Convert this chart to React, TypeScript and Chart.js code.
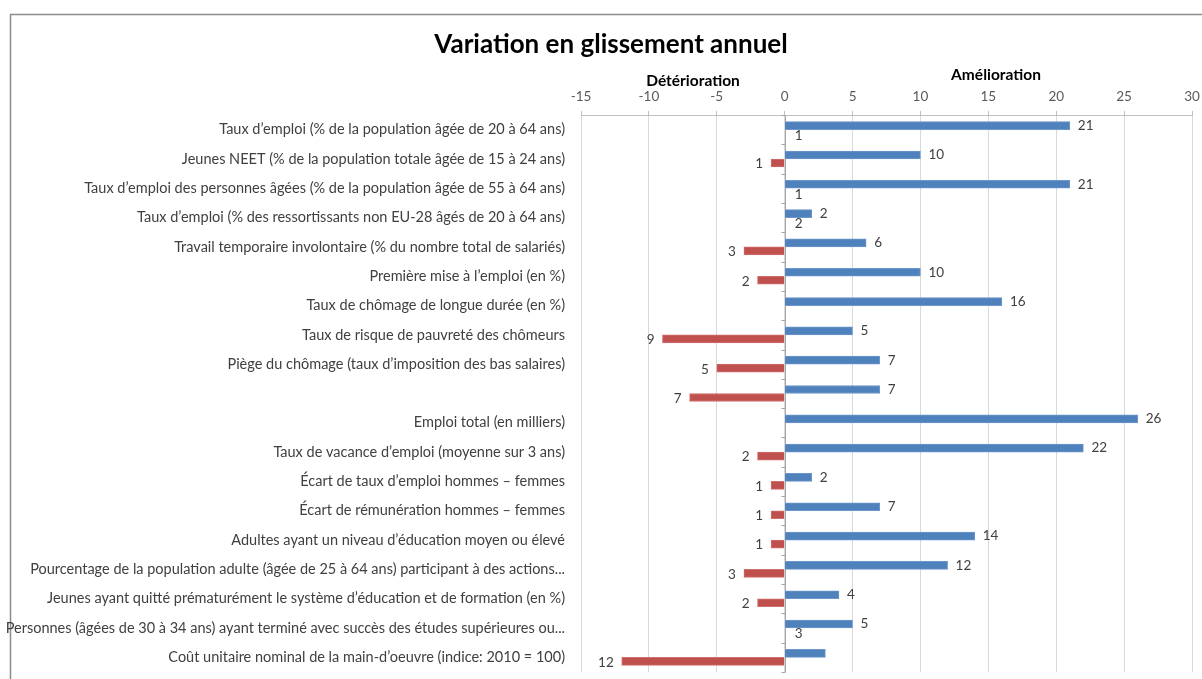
import React, { useEffect, useRef } from "react";
import { Chart, registerables } from "chart.js";

Chart.register(...registerables);

const categories: string[] = [
  "Taux d’emploi (% de la population âgée de 20 à 64 ans)",
  "Jeunes NEET (% de la population totale âgée de 15 à 24 ans)",
  "Taux d’emploi des personnes âgées (% de la population âgée de 55 à 64 ans)",
  "Taux d’emploi (% des ressortissants non EU-28 âgés de 20 à 64 ans)",
  "Travail temporaire involontaire (% du nombre total de salariés)",
  "Première mise à l’emploi (en %)",
  "Taux de chômage de longue durée (en %)",
  "Taux de risque de pauvreté des chômeurs",
  "Piège du chômage (taux d’imposition des bas salaires)",
  "",
  "Emploi total (en milliers)",
  "Taux de vacance d’emploi (moyenne sur 3 ans)",
  "Écart de taux d’emploi hommes – femmes",
  "Écart de rémunération hommes – femmes",
  "Adultes ayant un niveau d’éducation moyen ou élevé",
  "Pourcentage de la population adulte (âgée de 25 à 64 ans) participant à des actions...",
  "Jeunes ayant quitté prématurément le système d’éducation et de formation (en %)",
  "Personnes (âgées de 30 à 34 ans) ayant terminé avec succès des études supérieures ou...",
  "Coût unitaire nominal de la main-d’oeuvre (indice: 2010 = 100)",
];

const ameliorationValues: number[] = [21, 10, 21, 2, 6, 10, 16, 5, 7, 7, 26, 22, 2, 7, 14, 12, 4, 5, 3];
const ameliorationLabels: (string | null)[] = ["21", "10", "21", "2", "6", "10", "16", "5", "7", "7", "26", "22", "2", "7", "14", "12", "4", "5", null];

const deteriorationValues: number[] = [0, -1, 0, 0, -3, -2, 0, -9, -5, -7, 0, -2, -1, -1, -1, -3, -2, 0, -12];
const deteriorationLabels: (string | null)[] = ["1", "1", "1", "2", "3", "2", null, "9", "5", "7", null, "2", "1", "1", "1", "3", "2", "3", "12"];

const xTicks: number[] = [-15, -10, -5, 0, 5, 10, 15, 20, 25, 30];

const TITLE = "Variation en glissement annuel";
const LEFT_HEADER = "Détérioration";
const RIGHT_HEADER = "Amélioration";

const FONT = "Lato, 'Open Sans', sans-serif";

const decorPlugin = {
  id: "decor",
  beforeDraw(chart: any) {
    const ctx = chart.ctx;
    ctx.save();
    ctx.fillStyle = "#ffffff";
    ctx.fillRect(0, 0, chart.width, chart.height);
    ctx.strokeStyle = "#8c8c8c";
    ctx.lineWidth = 1.5;
    ctx.strokeRect(10.5, 14.5, chart.width + 20, chart.height + 20);
    ctx.restore();
  },
  beforeDatasetsDraw(chart: any) {
    const ctx = chart.ctx;
    const x = chart.scales.x;
    const x0 = Math.round(x.getPixelForValue(0)) + 0.5;
    ctx.save();
    ctx.strokeStyle = "#a6a6a6";
    ctx.lineWidth = 1;
    ctx.beginPath();
    ctx.moveTo(x0, chart.chartArea.top);
    ctx.lineTo(x0, chart.chartArea.bottom);
    const n = categories.length;
    const step = (chart.chartArea.bottom - chart.chartArea.top) / n;
    for (let i = 0; i <= n; i++) {
      const yy = Math.round(chart.chartArea.top + i * step) + 0.5;
      ctx.moveTo(x0 - 4, yy);
      ctx.lineTo(x0, yy);
    }
    ctx.stroke();
    ctx.restore();
  },
  afterDatasetsDraw(chart: any) {
    const ctx = chart.ctx;
    const xs = chart.scales.x;
    const x0 = xs.getPixelForValue(0);
    ctx.save();
    ctx.font = `13.5px ${FONT}`;
    ctx.fillStyle = "#404040";
    ctx.textBaseline = "middle";
    const blue = chart.getDatasetMeta(0).data;
    blue.forEach((el: any, i: number) => {
      const lab = ameliorationLabels[i];
      if (!lab) return;
      ctx.textAlign = "left";
      ctx.fillText(lab, el.x + 8, el.y);
    });
    const red = chart.getDatasetMeta(1).data;
    red.forEach((el: any, i: number) => {
      const lab = deteriorationLabels[i];
      if (!lab) return;
      if (deteriorationValues[i] < 0) {
        ctx.textAlign = "right";
        ctx.fillText(lab, el.x - 8, el.y + 1);
      } else {
        ctx.textAlign = "left";
        ctx.fillText(lab, x0 + 10, el.y + 2);
      }
    });
    // title and headers
    ctx.fillStyle = "#000000";
    ctx.textAlign = "center";
    ctx.font = `bold 26px ${FONT}`;
    ctx.fillText(TITLE, 611, 45);
    ctx.font = `bold 15.5px ${FONT}`;
    ctx.fillText(LEFT_HEADER, 693, 81);
    ctx.fillText(RIGHT_HEADER, 996, 75);
    ctx.restore();
  },
};

export default function App() {
  const ref = useRef<HTMLCanvasElement | null>(null);
  useEffect(() => {
    if (!ref.current) return;
    const chart = new Chart(ref.current, {
      type: "bar",
      data: {
        labels: categories,
        datasets: [
          {
            label: "Amélioration",
            data: ameliorationValues,
            backgroundColor: "#4f81bd",
            borderColor: "#6d97cc",
            borderWidth: 1,
            barThickness: 8,
          },
          {
            label: "Détérioration",
            data: deteriorationValues,
            backgroundColor: "#c0504d",
            borderColor: "#cf6f6c",
            borderWidth: 1,
            barThickness: 8,
          },
        ],
      },
      options: {
        indexAxis: "y",
        animation: false,
        responsive: false,
        maintainAspectRatio: false,
        layout: { padding: { left: 0, right: 10, top: 0, bottom: 7 } },
        plugins: {
          legend: { display: false },
          title: { display: false },
          tooltip: { enabled: false },
        },
        scales: {
          x: {
            position: "top",
            min: -15,
            max: 30,
            afterBuildTicks: (axis: any) => {
              axis.ticks = xTicks.map((v) => ({ value: v }));
            },
            afterFit: (axis: any) => {
              axis.height = 115;
              axis.paddingLeft = 0;
              axis.paddingRight = 0;
            },
            grid: {
              color: "#d9d9d9",
              lineWidth: 1,
              drawTicks: true,
              tickLength: 4,
              tickColor: "#bfbfbf",
            },
            border: { display: true, color: "#bfbfbf" },
            ticks: {
              padding: 6,
              color: "#595959",
              font: { family: FONT, size: 13.5 },
            },
          },
          y: {
            afterFit: (axis: any) => {
              axis.width = 581;
              axis.paddingTop = 0;
              axis.paddingBottom = 0;
            },
            grid: { display: false, drawTicks: false },
            border: { display: false },
            ticks: {
              padding: 16,
              autoSkip: false,
              color: "#404040",
              font: { family: FONT, size: 14.5 },
            },
          },
        },
      },
      plugins: [decorPlugin],
    });
    return () => chart.destroy();
  }, []);
  return (
    <div style={{ position: "absolute", left: 0, top: 0, width: 1202, height: 679 }}>
      <canvas ref={ref} width={1202} height={679} style={{ display: "block" }} />
    </div>
  );
}
